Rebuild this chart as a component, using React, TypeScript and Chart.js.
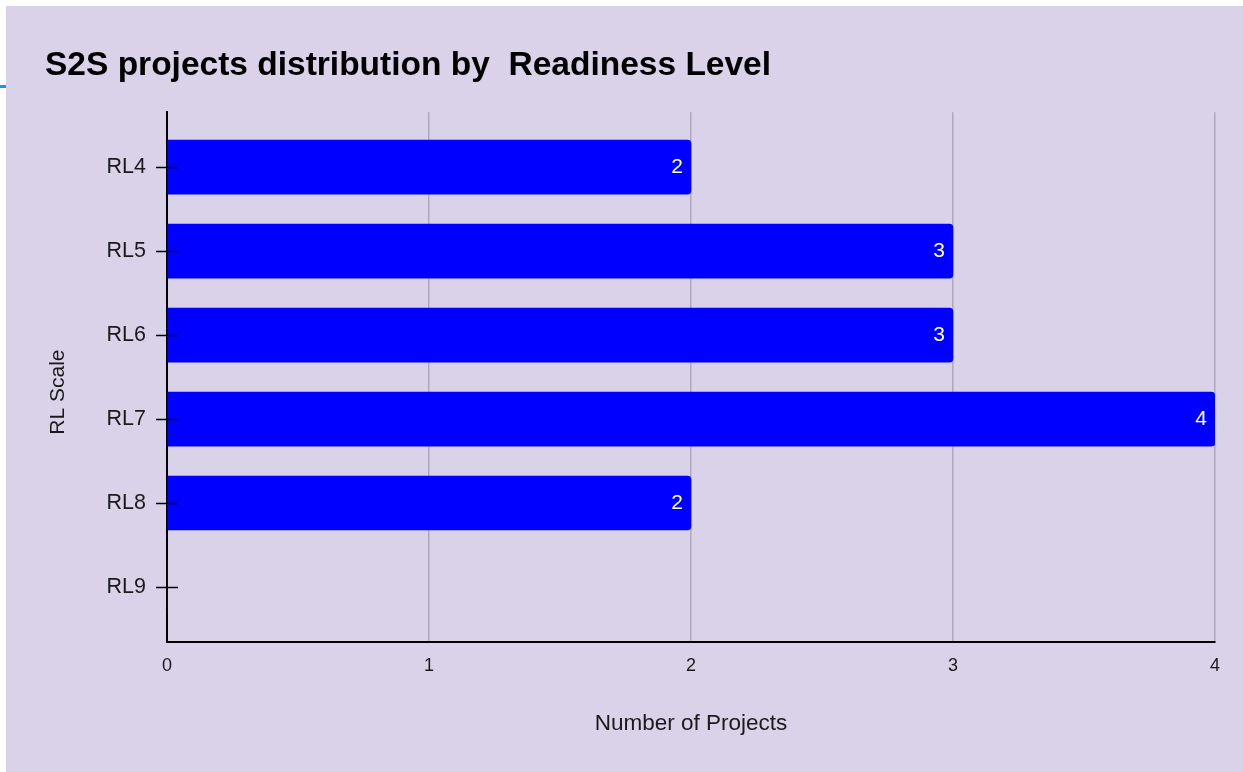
import React, { useEffect, useRef } from "react";
import { Chart, registerables } from "chart.js";

Chart.register(...registerables);

const categories = ["RL4", "RL5", "RL6", "RL7", "RL8", "RL9"];
const projectCounts = [2, 3, 3, 4, 2, 0];
const xMin = 0;
const xMax = 4;
const titleText = "S2S projects distribution by  Readiness Level";
const xTitle = "Number of Projects";
const yTitle = "RL Scale";

const FONT = "'Liberation Sans', Arial, Helvetica, sans-serif";
const BG = "#d9d2e9";
const TEXT = "#1a1a1a";

export default function App() {
  const ref = useRef<HTMLCanvasElement | null>(null);

  useEffect(() => {
    const canvas = ref.current;
    if (!canvas) return;

    const tickMarks = {
      id: "tickMarks",
      afterDraw(chart: any) {
        const s = chart.scales.y;
        const ctx = chart.ctx;
        const x = chart.chartArea.left;
        ctx.save();
        ctx.strokeStyle = "#000";
        ctx.lineWidth = 1.5;
        s.ticks.forEach((_t: any, i: number) => {
          const y = Math.round(s.getPixelForTick(i)) + 0.5;
          ctx.beginPath();
          ctx.moveTo(x - 11, y);
          ctx.lineTo(x + 11, y);
          ctx.stroke();
        });
        ctx.restore();
      },
    };

    const yAxisTitle = {
      id: "yAxisTitle",
      afterDraw(chart: any) {
        const s = chart.scales.y;
        const ctx = chart.ctx;
        const cy = (s.top + s.bottom) / 2 + 15;
        const cx = s.left + 13;
        ctx.save();
        ctx.translate(cx, cy);
        ctx.rotate(-Math.PI / 2);
        ctx.fillStyle = TEXT;
        ctx.font = `21px ${FONT}`;
        ctx.textAlign = "center";
        ctx.textBaseline = "middle";
        ctx.fillText(yTitle, 0, 0);
        ctx.restore();
      },
    };

    const valueLabels = {
      id: "valueLabels",
      afterDatasetsDraw(chart: any) {
        const meta = chart.getDatasetMeta(0);
        const ctx = chart.ctx;
        ctx.save();
        ctx.fillStyle = "#ffffff";
        ctx.font = `21px ${FONT}`;
        ctx.textAlign = "right";
        ctx.textBaseline = "middle";
        meta.data.forEach((el: any, i: number) => {
          const v = projectCounts[i];
          if (!v) return;
          ctx.fillText(String(v), el.x - 8, el.y);
        });
        ctx.restore();
      },
    };

    Chart.defaults.font.family = FONT;

    const chart = new Chart(canvas, {
      type: "bar",
      data: {
        datasets: [
          {
            data: projectCounts.map((v, i) => ({ x: v, y: i })),
            backgroundColor: "#0000ff",
            borderRadius: 4,
            borderSkipped: "start",
            barThickness: 54,
          },
        ],
      },
      options: {
        indexAxis: "y",
        responsive: false,
        animation: false,
        layout: { padding: { left: 39, right: 28, top: 0, bottom: 0 } },
        plugins: {
          legend: { display: false },
          tooltip: { enabled: false },
          title: {
            display: true,
            text: titleText,
            align: "start",
            color: "#000",
            font: { size: 33.5, weight: "bold", family: FONT },
            padding: { top: 40, bottom: 26 },
          },
        },
        scales: {
          x: {
            type: "linear",
            position: "bottom",
            min: xMin,
            max: xMax,
            ticks: {
              stepSize: 1,
              padding: 13,
              color: TEXT,
              font: { size: 18, family: FONT },
            },
            grid: {
              color: "rgba(0,0,0,0.2)",
              lineWidth: 1.5,
              drawTicks: false,
            },
            border: { display: true, color: "#000", width: 2 },
            title: {
              display: true,
              text: xTitle,
              color: TEXT,
              font: { size: 22.5, family: FONT },
              padding: { top: 0, bottom: 35 },
            },
            afterFit: (s: any) => {
              s.height = 130;
            },
          },
          y: {
            type: "linear",
            reverse: true,
            offset: false,
            min: -0.655,
            max: categories.length - 1 + 0.655,
            afterBuildTicks: (s: any) => {
              s.ticks = categories.map((_c, i) => ({ value: i }));
            },
            ticks: {
              callback: (v: any) => categories[v as number] ?? "",
              padding: 21,
              color: TEXT,
              font: { size: 21.5, family: FONT },
              autoSkip: false,
            },
            grid: { display: false, drawTicks: false, offset: false },
            border: { display: true, color: "#000", width: 2 },
            title: { display: false },
            afterFit: (s: any) => {
              s.width = 122;
            },
          },
        },
      } as any,
      plugins: [tickMarks, valueLabels, yAxisTitle],
    });

    return () => chart.destroy();
  }, []);

  return (
    <div
      style={{
        position: "fixed",
        left: 0,
        top: 0,
        width: 1243,
        height: 772,
        background: "#ffffff",
      }}
    >
      <div
        style={{
          position: "absolute",
          left: 0,
          top: 85,
          width: 6,
          height: 3,
          background: "#2a8fd6",
        }}
      />
      <div
        style={{
          position: "absolute",
          left: 6,
          top: 6,
          width: 1237,
          height: 766,
          background: BG,
        }}
      >
        <canvas ref={ref} width={1237} height={766} style={{ display: "block" }} />
      </div>
    </div>
  );
}
